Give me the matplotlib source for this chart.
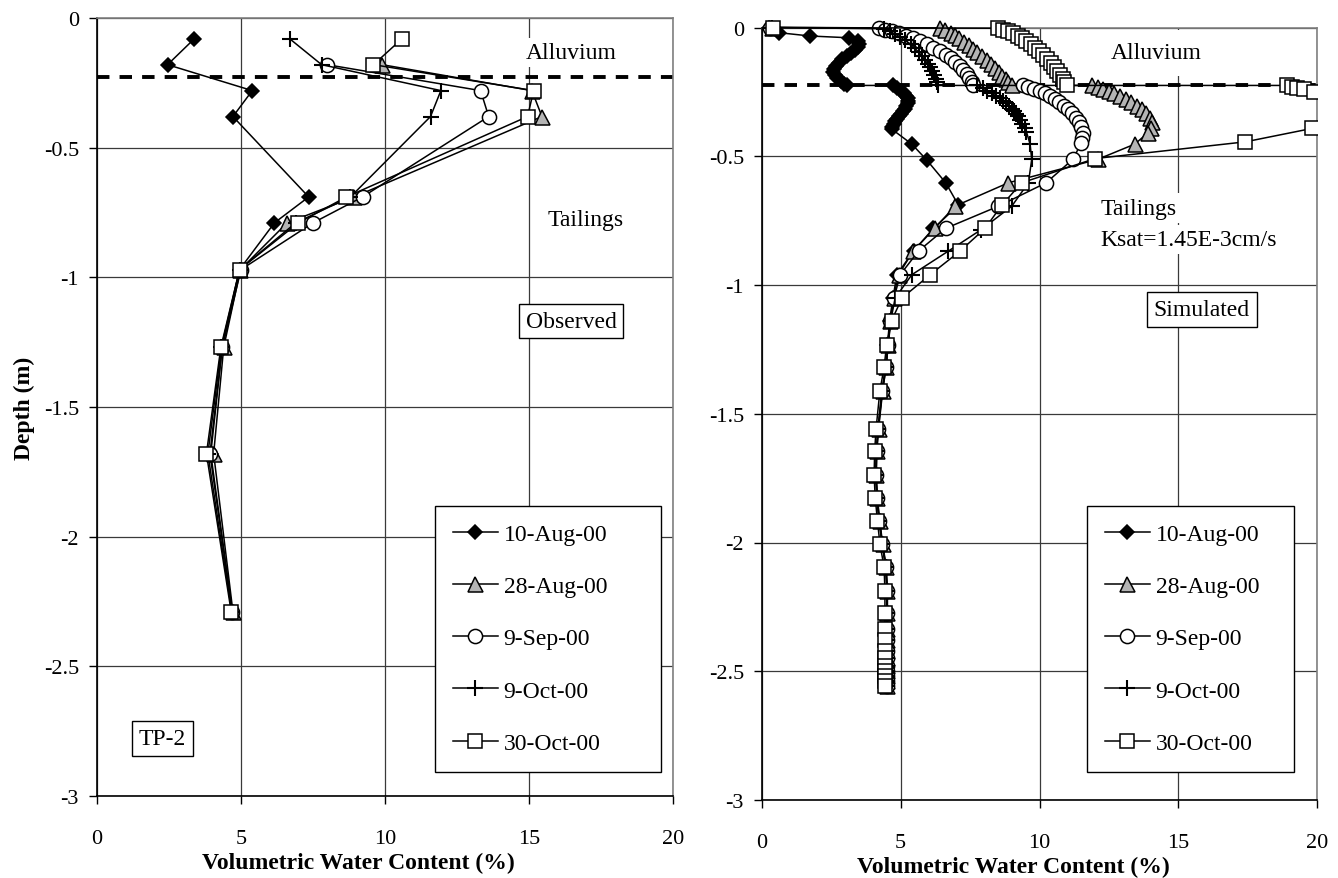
import matplotlib
matplotlib.use('Agg')
import matplotlib.pyplot as plt
from matplotlib.lines import Line2D
from matplotlib.patches import Rectangle
from matplotlib.ticker import FuncFormatter, MultipleLocator

plt.rcParams['font.family'] = ['Liberation Serif', 'DejaVu Serif']
plt.rcParams['axes.unicode_minus'] = False

# ---------------- data ----------------
series_labels = ['10-Aug-00', '28-Aug-00', '9-Sep-00', '9-Oct-00', '30-Oct-00']

# Observed (TP-2)
obs_depth = [-0.08, -0.18, -0.28, -0.38, -0.69, -0.79, -0.97, -1.27, -1.68, -2.29]
obs_10aug = [3.38, 2.45, 5.39, 4.72, 7.35, 6.16, 4.95, 4.35, 3.95, 4.70]
obs_28aug = [None, 9.9, 15.1, 15.45, 8.93, 6.6, 4.98, 4.4, 4.05, 4.72]
obs_9sep = [None, 7.99, 13.32, 13.6, 9.22, 7.5, 5.0, 4.35, 3.92, 4.70]
obs_9oct = [6.69, 7.8, 11.94, 11.58, 8.8, 6.9, 4.95, 4.32, 3.85, 4.68]
obs_30oct = [10.59, 9.6, 15.16, 14.95, 8.66, 6.99, 4.95, 4.30, 3.80, 4.66]

# Simulated
sim_deep_depth = [-1.05, -1.138, -1.232, -1.32, -1.41, -1.559, -1.646, -1.738, -1.826,
                  -1.915, -2.006, -2.096, -2.187, -2.273, -2.336, -2.38, -2.42, -2.45,
                  -2.48, -2.50, -2.52, -2.536, -2.558]

sim_10aug_depth = [0, -0.02, -0.033, -0.04, -0.052, -0.064, -0.076, -0.088, -0.10, -0.112,
                   -0.124, -0.136, -0.148, -0.16, -0.172, -0.184, -0.196, -0.208, -0.218, -0.225,
                   -0.225, -0.235, -0.245, -0.255, -0.265, -0.275, -0.285, -0.295, -0.305, -0.315,
                   -0.325, -0.335, -0.345, -0.355, -0.365, -0.375, -0.385, -0.395,
                   -0.453, -0.515, -0.603, -0.69, -0.78, -0.868, -0.96]
sim_10aug_wc = [0.25, 0.6, 1.73, 3.15, 3.45, 3.5, 3.45, 3.35, 3.2, 3.05,
                2.9, 2.78, 2.67, 2.6, 2.57, 2.62, 2.72, 2.85, 2.97, 3.05,
                4.72, 4.88, 5.0, 5.12, 5.2, 5.25, 5.27, 5.25, 5.2, 5.14,
                5.07, 5.0, 4.93, 4.86, 4.8, 4.74, 4.7, 4.68,
                5.4, 5.94, 6.62, 7.08, 6.18, 5.46, 4.86]
sim_10aug_deep = [4.72, 4.6, 4.52, 4.45, 4.33, 4.18, 4.12, 4.1, 4.14, 4.22, 4.33, 4.46,
                  4.5, 4.5, 4.5, 4.5, 4.5, 4.5, 4.5, 4.5, 4.5, 4.5, 4.5]

sim_28aug_depth = [0, -0.002, -0.01, -0.02, -0.03, -0.042, -0.055, -0.068, -0.082, -0.097,
                   -0.112, -0.127, -0.142, -0.157, -0.172, -0.187, -0.2, -0.212, -0.225,
                   -0.225, -0.23, -0.237, -0.245, -0.255, -0.265, -0.277, -0.29, -0.303, -0.318,
                   -0.333, -0.35, -0.368, -0.39, -0.41, -0.453, -0.512, -0.603, -0.694, -0.78,
                   -0.868, -0.96]
sim_28aug_wc = [0.35, 6.4, 6.6, 6.8, 6.95, 7.1, 7.28, 7.45, 7.6, 7.76,
                7.93, 8.1, 8.25, 8.4, 8.53, 8.66, 8.78, 8.88, 9.0,
                11.9, 12.1, 12.3, 12.5, 12.7, 12.9, 13.1, 13.3, 13.5, 13.7,
                13.85, 13.98, 14.05, 14.0, 13.9, 13.43, 12.1, 8.88, 6.95, 6.22,
                5.45, 4.92]
sim_28aug_deep = [4.74, 4.62, 4.54, 4.47, 4.35, 4.2, 4.14, 4.12, 4.16, 4.24, 4.35, 4.48,
                  4.52, 4.52, 4.52, 4.52, 4.52, 4.52, 4.52, 4.52, 4.52, 4.52, 4.52]

sim_9sep_depth = [0, -0.002, -0.008, -0.015, -0.023, -0.032, -0.042, -0.053, -0.065, -0.078,
                  -0.092, -0.106, -0.12, -0.135, -0.15, -0.165, -0.18, -0.195, -0.21, -0.225,
                  -0.225, -0.23, -0.237, -0.245, -0.255, -0.265, -0.277, -0.29, -0.303, -0.318,
                  -0.333, -0.35, -0.368, -0.388, -0.41, -0.43, -0.45, -0.512, -0.603, -0.694,
                  -0.78, -0.868, -0.96]
sim_9sep_wc = [0.3, 4.2, 4.45, 4.7, 4.95, 5.2, 5.45, 5.7, 5.95, 6.17,
               6.4, 6.62, 6.8, 6.97, 7.12, 7.25, 7.37, 7.47, 7.55, 7.62,
               9.4, 9.6, 9.8, 10.0, 10.2, 10.38, 10.55, 10.72, 10.87, 11.02,
               11.16, 11.3, 11.42, 11.5, 11.55, 11.54, 11.5, 11.2, 10.24, 8.52,
               6.62, 5.64, 4.98]
sim_9sep_deep = [4.76, 4.63, 4.55, 4.47, 4.34, 4.19, 4.13, 4.11, 4.15, 4.23, 4.34, 4.47,
                 4.51, 4.51, 4.51, 4.51, 4.51, 4.51, 4.51, 4.51, 4.51, 4.51, 4.51]

sim_9oct_depth = [0, -0.005, -0.015, -0.025, -0.037, -0.05, -0.065, -0.08, -0.095, -0.11,
                  -0.125, -0.14, -0.155, -0.17, -0.185, -0.2, -0.212, -0.225,
                  -0.225, -0.235, -0.245, -0.255, -0.265, -0.275, -0.285, -0.295, -0.305,
                  -0.315, -0.325, -0.335, -0.345, -0.36, -0.375, -0.39, -0.405, -0.453,
                  -0.512, -0.603, -0.694, -0.785, -0.868, -0.96]
sim_9oct_wc = [0.35, 4.4, 4.6, 4.78, 4.98, 5.16, 5.36, 5.5, 5.64, 5.76,
               5.86, 5.97, 6.05, 6.13, 6.2, 6.26, 6.3, 6.34,
               7.75, 7.95, 8.12, 8.28, 8.42, 8.56, 8.7, 8.8, 8.9,
               9.0, 9.08, 9.15, 9.22, 9.3, 9.38, 9.46, 9.53, 9.66,
               9.72, 9.6, 9.0, 7.9, 6.72, 5.4]
sim_9oct_deep = [4.8, 4.64, 4.55, 4.46, 4.32, 4.18, 4.12, 4.1, 4.14, 4.22, 4.33, 4.46,
                 4.5, 4.5, 4.5, 4.5, 4.5, 4.5, 4.5, 4.5, 4.5, 4.5, 4.5]

sim_30oct_depth = [0, -0.003, -0.008, -0.015, -0.023, -0.032, -0.042, -0.053, -0.065, -0.078,
                   -0.092, -0.107, -0.122, -0.138, -0.154, -0.17, -0.185, -0.2, -0.213, -0.225,
                   -0.225, -0.23, -0.235, -0.24, -0.25, -0.265, -0.285, -0.31, -0.34, -0.37,
                   -0.392, -0.444, -0.509, -0.603, -0.69, -0.78, -0.868, -0.96]
sim_30oct_wc = [0.4, 8.5, 8.7, 8.88, 9.05, 9.22, 9.38, 9.53, 9.68, 9.83,
                9.98, 10.12, 10.26, 10.4, 10.52, 10.64, 10.74, 10.83, 10.9, 10.98,
                18.92, 19.1, 19.28, 19.52, 19.88, 20.4, 20.9, 21.2, 21.0, 20.6,
                19.82, 17.42, 12.0, 9.36, 8.64, 8.04, 7.14, 6.06]
sim_30oct_deep = [5.05, 4.67, 4.49, 4.40, 4.25, 4.11, 4.06, 4.04, 4.08, 4.16, 4.25, 4.40,
                  4.43, 4.43, 4.43, 4.43, 4.43, 4.43, 4.43, 4.43, 4.43, 4.43, 4.43]

interface_depth_obs = -0.228
interface_depth_sim = -0.225

# ---------------- styles ----------------
styles = [
    dict(marker='D', ms=7.4, mfc='black', mec='black', mew=1.1),
    dict(marker='^', ms=10.8, mfc='#b4b4b4', mec='black', mew=1.1),
    dict(marker='o', ms=10.2, mfc='white', mec='black', mew=1.1),
    dict(marker='+', ms=11.5, mfc='none', mec='black', mew=1.5),
    dict(marker='s', ms=10.0, mfc='white', mec='black', mew=1.1),
]
LW = 1.1

W, H = 1338, 879
fig = plt.figure(figsize=(W / 100, H / 100), dpi=100)


def axrect(x0, x1, ytop, ybot):
    return [x0 / W, 1 - ybot / H, (x1 - x0) / W, (ybot - ytop) / H]


axL = fig.add_axes(axrect(97, 673, 19, 797))
axR = fig.add_axes(axrect(762, 1317, 28.5, 801))

fmt = FuncFormatter(lambda v, p: ('%g' % v) if abs(v) > 1e-9 else '0')

for ax in (axL, axR):
    ax.set_xlim(0, 20)
    ax.set_ylim(-3, 0)
    ax.xaxis.set_major_locator(MultipleLocator(5))
    ax.yaxis.set_major_locator(MultipleLocator(0.5))
    ax.xaxis.set_major_formatter(fmt)
    ax.yaxis.set_major_formatter(fmt)
    ax.grid(True, color='#3a3a3a', lw=0.9, zorder=0)
    ax.set_axisbelow(True)
    ax.tick_params(direction='out', length=6, width=1.0, labelsize=16, colors='black')
    ax.tick_params(axis='x', pad=18)
    ax.tick_params(axis='y', pad=7)
    for s in ('left', 'bottom'):
        ax.spines[s].set_color('black')
        ax.spines[s].set_linewidth(1.2)
    for s in ('top', 'right'):
        ax.spines[s].set_color('#808080')
        ax.spines[s].set_linewidth(1.2)
    ax.set_xlabel('Volumetric Water Content (%)', fontsize=17, fontweight='bold')
    ax.xaxis.set_label_coords(0.453, -0.072)

axL.set_ylabel('Depth (m)', fontsize=17, fontweight='bold')
axL.yaxis.set_label_coords(-0.108, 0.5)

# interface dashed lines
axL.plot([0, 20], [interface_depth_obs] * 2, color='black', lw=2.8,
         ls=(0, (3.2, 2.6)), zorder=2)
axR.plot([0, 20], [interface_depth_sim] * 2, color='black', lw=2.8,
         ls=(0, (3.2, 2.6)), zorder=2)

# observed
obs_vals = [obs_10aug, obs_28aug, obs_9sep, obs_9oct, obs_30oct]
for vals, st, lab in zip(obs_vals, styles, series_labels):
    xs = [v for v in vals if v is not None]
    ys = [d for v, d in zip(vals, obs_depth) if v is not None]
    axL.plot(xs, ys, color='black', lw=LW, label=lab, zorder=3, **st)

# simulated
sim_sets = [
    (sim_10aug_wc + sim_10aug_deep, sim_10aug_depth + sim_deep_depth),
    (sim_28aug_wc + sim_28aug_deep, sim_28aug_depth + sim_deep_depth),
    (sim_9sep_wc + sim_9sep_deep, sim_9sep_depth + sim_deep_depth),
    (sim_9oct_wc + sim_9oct_deep, sim_9oct_depth + sim_deep_depth),
    (sim_30oct_wc + sim_30oct_deep, sim_30oct_depth + sim_deep_depth),
]
clip = Rectangle((-0.05, -0.05), 1.05, 1.12, transform=axR.transAxes,
                 facecolor='none', edgecolor='none')
axR.add_patch(clip)
for (xs, ys), st, lab in zip(sim_sets, styles, series_labels):
    ln, = axR.plot(xs, ys, color='black', lw=LW, label=lab, zorder=3, **st)
    ln.set_clip_path(clip)

# texts
wbox = dict(facecolor='white', edgecolor='none', pad=3)
kbox = dict(facecolor='white', edgecolor='black', lw=1.0, pad=5)
axL.text(16.45, -0.154, 'Alluvium', fontsize=17, ha='center', va='baseline', bbox=wbox, zorder=5)
axL.text(16.95, -0.80, 'Tailings', fontsize=17, ha='center', va='baseline', bbox=wbox, zorder=5)
axL.text(16.46, -1.19, 'Observed', fontsize=17, ha='center', va='baseline', bbox=kbox, zorder=5)
axL.text(2.26, -2.80, 'TP-2', fontsize=17, ha='center', va='baseline', bbox=kbox, zorder=5)

axR.text(14.2, -0.12, 'Alluvium', fontsize=17, ha='center', va='baseline',
         bbox=dict(facecolor='white', edgecolor='none', pad=9), zorder=5)
axR.text(12.2, -0.723, 'Tailings', fontsize=17, ha='left', va='baseline', bbox=wbox, zorder=5)
axR.text(12.2, -0.844, 'Ksat=1.45E-3cm/s', fontsize=17, ha='left', va='baseline', bbox=wbox, zorder=5)
axR.text(15.85, -1.117, 'Simulated', fontsize=17, ha='center', va='baseline', bbox=kbox, zorder=5)


# legends
def make_legend(ax, x0, y1, w, lspace):
    handles = [Line2D([], [], color='black', lw=LW, **st) for st in styles]
    leg = ax.legend(handles, series_labels, loc='upper left',
                    bbox_to_anchor=(x0, y1 - 1.0, w, 1.0), mode='expand',
                    fontsize=17, frameon=True, fancybox=False, framealpha=1,
                    edgecolor='black', borderaxespad=0, borderpad=0.75,
                    labelspacing=lspace, handlelength=1.9, handletextpad=0.25)
    leg.get_frame().set_linewidth(1.0)
    leg.set_zorder(6)
    return leg


make_legend(axL, 0.587, 0.373, 0.392, 1.3)
make_legend(axR, 0.586, 0.381, 0.373, 1.3)

fig.savefig('out.png', dpi=100)
